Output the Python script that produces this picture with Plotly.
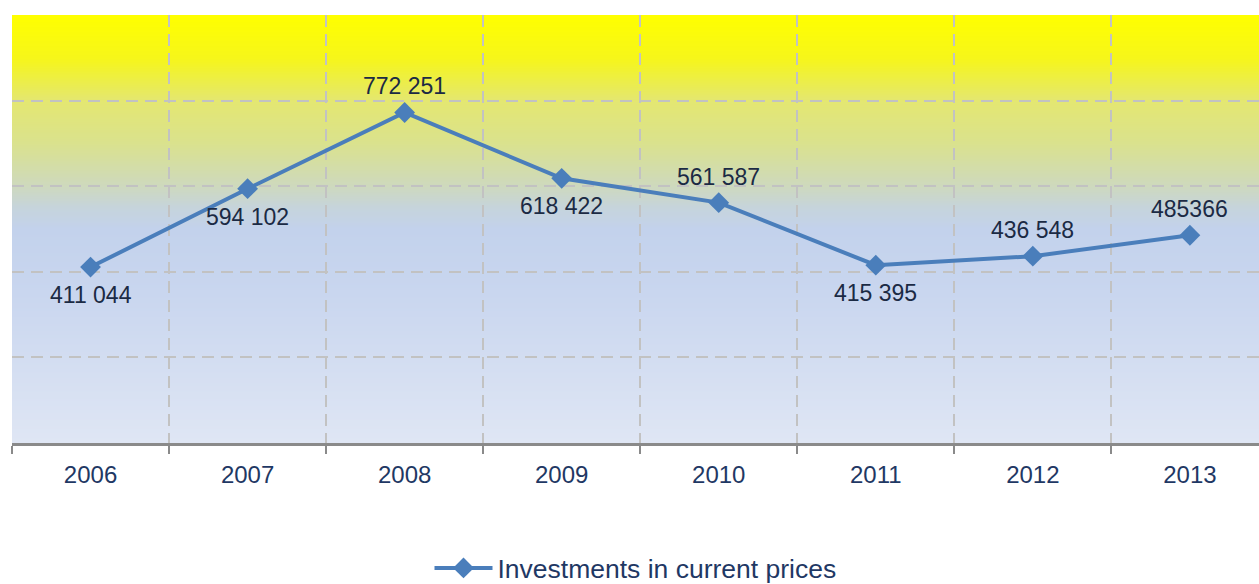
import base64
import struct
import zlib

import plotly.graph_objects as go

# ---- data ----
years = ["2006", "2007", "2008", "2009", "2010", "2011", "2012", "2013"]
investments = [411044, 594102, 772251, 618422, 561587, 415395, 436548, 485366]
labels = ["411 044", "594 102", "772 251", "618 422", "561 587", "415 395", "436 548", "485366"]
label_side = ["bottom", "bottom", "top", "bottom", "top", "bottom", "top", "top"]
series_name = "Investments in current prices"


# ---- gradient background image (1 px wide PNG) ----
def hex_rgb(h):
    h = h.lstrip("#")
    return tuple(int(h[i:i + 2], 16) for i in (0, 2, 4))


stops = [
    (0.00, "#FFFF00"),
    (0.10, "#F6F61A"),
    (0.20, "#E4E771"),
    (0.30, "#DAE28E"),
    (0.40, "#CED9BE"),
    (0.45, "#C6D4DC"),
    (0.50, "#C3D2EC"),
    (0.65, "#C9D6EF"),
    (1.00, "#DFE6F4"),
]


def color_at(t):
    for (t0, c0), (t1, c1) in zip(stops[:-1], stops[1:]):
        if t0 <= t <= t1:
            f = (t - t0) / (t1 - t0) if t1 > t0 else 0
            a, b = hex_rgb(c0), hex_rgb(c1)
            return tuple(round(a[i] + (b[i] - a[i]) * f) for i in range(3))
    return hex_rgb(stops[-1][1])


H = 400
raw = b""
for r in range(H):
    raw += b"\x00" + bytes(color_at(r / (H - 1)))


def chunk(tag, data):
    c = struct.pack(">I", len(data)) + tag + data
    return c + struct.pack(">I", zlib.crc32(tag + data) & 0xFFFFFFFF)


png = b"\x89PNG\r\n\x1a\n"
png += chunk(b"IHDR", struct.pack(">IIBBBBB", 1, H, 8, 2, 0, 0, 0))
png += chunk(b"IDAT", zlib.compress(raw))
png += chunk(b"IEND", b"")
bg_uri = "data:image/png;base64," + base64.b64encode(png).decode()

FONT = "Liberation Sans, Arial, sans-serif"
LINE_COLOR = "#4A7EBB"

fig = go.Figure()
fig.add_trace(go.Scatter(
    x=years, y=investments, name=series_name,
    mode="lines+markers",
    line=dict(color=LINE_COLOR, width=4),
    marker=dict(symbol="diamond", size=16, color=LINE_COLOR),
    cliponaxis=False,
    hoverinfo="skip",
))

for i, (v, lab, side) in enumerate(zip(investments, labels, label_side)):
    fig.add_annotation(
        x=i, y=v, xref="x", yref="y", text=lab, showarrow=False,
        yanchor="bottom" if side == "top" else "top",
        yshift=11 if side == "top" else -13,
        font=dict(family=FONT, size=23, color="#1B2A44"),
    )

fig.update_layout(
    width=1259, height=584,
    margin=dict(l=12, r=0, t=15, b=141),
    paper_bgcolor="white",
    plot_bgcolor="white",
    showlegend=True,
    legend=dict(
        orientation="h", x=0.5, xanchor="center",
        yref="container", y=0.027, yanchor="middle",
        font=dict(family=FONT, size=26.5, color="#1F3864"),
        itemwidth=58,
        bgcolor="rgba(0,0,0,0)",
    ),
    images=[dict(
        source=bg_uri, xref="paper", yref="paper",
        x=0, y=1, sizex=1, sizey=1, xanchor="left", yanchor="top",
        sizing="stretch", layer="below",
    )],
    xaxis=dict(
        type="category",
        range=[-0.5, 7.44],
        tickson="boundaries",
        ticks="outside", ticklen=8, tickwidth=1.5, tickcolor="#8A8A8A",
        ticklabelstandoff=8,
        showline=True, linecolor="#8A8A8A", linewidth=2.5,
        showgrid=True, gridcolor="#C2C2C2", gridwidth=1.5, griddash="12px,7px",
        tickfont=dict(family=FONT, size=24, color="#1F3864"),
        fixedrange=True,
    ),
    yaxis=dict(
        range=[0, 1000000], dtick=200000,
        showticklabels=False, ticks="",
        showgrid=True, gridcolor="#C2C2C2", gridwidth=1.5, griddash="12px,7px",
        zeroline=False, showline=False,
        fixedrange=True,
    ),
)

fig.write_html(
    "out.html",
    config={"displayModeBar": False},
    post_script="document.body.style.margin='0';document.body.style.overflow='hidden';",
)
